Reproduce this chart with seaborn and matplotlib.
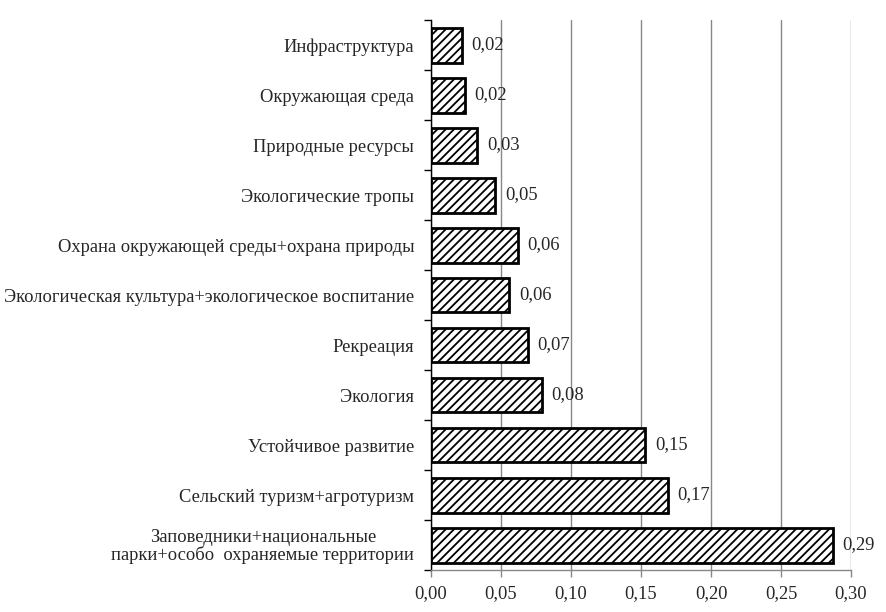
import matplotlib
matplotlib.use("Agg")
import matplotlib.pyplot as plt
import seaborn as sns
import pandas as pd
import numpy as np
from matplotlib.ticker import FixedLocator

categories = [
    "Инфраструктура",
    "Окружающая среда",
    "Природные ресурсы",
    "Экологические тропы",
    "Охрана окружающей среды+охрана природы",
    "Экологическая культура+экологическое воспитание",
    "Рекреация",
    "Экология",
    "Устойчивое развитие",
    "Сельский туризм+агротуризм",
    "Заповедники+национальные\nпарки+особо  охраняемые территории",
]
values = [0.022, 0.024, 0.033, 0.046, 0.062, 0.056, 0.069, 0.079, 0.153, 0.169, 0.287]
labels = ["0,02", "0,02", "0,03", "0,05", "0,06", "0,06", "0,07", "0,08", "0,15", "0,17", "0,29"]
xticks = [0.0, 0.05, 0.10, 0.15, 0.20, 0.25, 0.30]
xticklabels = ["0,00", "0,05", "0,10", "0,15", "0,20", "0,25", "0,30"]

sns.set_theme(style="white")
plt.rcParams['font.family'] = ['Liberation Serif', 'DejaVu Serif']
plt.rcParams['hatch.linewidth'] = 1.3

FS = 13.3

df = pd.DataFrame({"cat": categories, "val": values})

fig = plt.figure(figsize=(8.86, 6.12), dpi=100)
ax = fig.add_axes([431/886, 42/612, 420/886, 550/612])

sns.barplot(data=df, y="cat", x="val", orient="h", color="white",
            edgecolor="black", linewidth=2, width=0.7, ax=ax, order=categories)
for p in ax.patches:
    p.set_hatch("////")
    p.set_facecolor("white")
    p.set_edgecolor("black")

ax.set_xlim(0, 0.30)
ax.set_ylim(len(categories) - 0.5, -0.5)
ax.set_xticks(xticks)
ax.set_xticklabels(xticklabels, fontsize=FS)
ax.set_xlabel("")
ax.set_ylabel("")
ax.set_yticks(range(len(categories)))
ax.set_yticklabels(categories, fontsize=FS, multialignment="center", linespacing=1.0)
ax.tick_params(axis="y", which="major", length=0, pad=12)
ax.yaxis.set_minor_locator(FixedLocator(np.arange(-0.5, len(categories) + 0.5, 1)))
ax.tick_params(axis="y", which="minor", length=5, width=1, color="black", direction="out", left=True)
ax.tick_params(axis="x", which="major", length=5, width=1, color="#888888", direction="out", bottom=True, pad=6)

ax.grid(axis="x", color="#888888", linewidth=1)
ax.set_axisbelow(True)
for s in ["top", "right"]:
    ax.spines[s].set_visible(False)
ax.spines["left"].set_color("black")
ax.spines["left"].set_linewidth(1)
ax.spines["bottom"].set_color("#888888")
ax.spines["bottom"].set_linewidth(1)

for i, (v, t) in enumerate(zip(values, labels)):
    ax.annotate(t, (v, i), xytext=(7, 0), textcoords="offset points",
                va="center", ha="left", fontsize=FS)

fig.savefig("out.png", dpi=100)
